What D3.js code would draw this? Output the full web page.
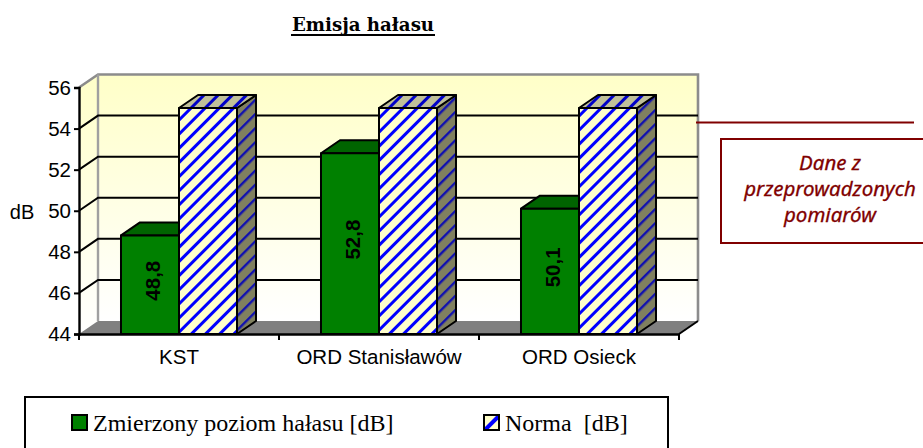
<!DOCTYPE html>
<html>
<head>
<meta charset="utf-8">
<script src="https://cdnjs.cloudflare.com/ajax/libs/d3/7.8.5/d3.min.js"></script>
<style>
  html, body { margin: 0; padding: 0; background: #fff; overflow: hidden; }
  text { font-family: "Liberation Sans", Arial, sans-serif; fill: #000; }
</style>
</head>
<body>
<div id="chart"></div>
<script>
var categories = ["KST", "ORD Stanisławów", "ORD Osieck"];
var seriesNames = ["Zmierzony poziom hałasu [dB]", "Norma  [dB]"];
var measured = [48.8, 52.8, 50.1];
var norm = [55, 55, 55];
var measuredLabels = ["48,8", "52,8", "50,1"];
var yTicks = [44, 46, 48, 50, 52, 54, 56];
var calloutLines = ["Dane z", "przeprowadzonych", "pomiarów"];

var width = 923, height = 448;
var depthX = 19, depthY = -13;

var svg = d3.select("#chart").append("svg")
  .attr("width", width)
  .attr("height", height);

var defs = svg.append("defs");

//wall gradient
var grad = defs.append("linearGradient")
  .attr("id", "wall")
  .attr("x1", 0).attr("y1", 0).attr("x2", 0).attr("y2", 1);
grad.append("stop").attr("offset", "0%").attr("stop-color", "#ffffc8");
grad.append("stop").attr("offset", "100%").attr("stop-color", "#ffffff");

//hatch fills
function hatch(id, bg, fg, size, w, shift) {
  var p = defs.append("pattern")
    .attr("id", id)
    .attr("patternUnits", "userSpaceOnUse")
    .attr("width", size).attr("height", size)
    .attr("patternTransform", "translate(" + shift + ",0) rotate(45)");
  p.append("rect").attr("width", size).attr("height", size).attr("fill", bg);
  p.append("rect").attr("width", w).attr("height", size).attr("fill", fg);
}
hatch("hatchFront", "#ffffcc", "#0000ff", 10, 3, 0);
hatch("hatchSide", "#80805f", "#1010b0", 10, 2.4, 0);
hatch("hatchTop", "#c0c09a", "#0000c8", 10, 3, 0);
hatch("hatchLegend", "#ffffcc", "#0000ff", 20, 4, 13);

//scales
var y = d3.scaleLinear().domain([44, 56]).range([334, 87.5]);
var x0 = d3.scaleBand().domain(categories).range([79, 679]);
var x1 = d3.scaleBand().domain(seriesNames).range([0, x0.bandwidth()])
  .paddingInner(0).paddingOuter(0.724);

var x = x0.range()[0], xEnd = x0.range()[1];
var y0 = y(44), yTop = y(56);

//left wall, back wall, floor
svg.append("path")
  .attr("d", "M" + x + "," + y0 + "L" + x + "," + yTop + "L" + (x + depthX) + "," + (yTop + depthY) + "L" + (x + depthX) + "," + (y0 + depthY) + "Z")
  .attr("fill", "url(#wall)");
svg.append("rect")
  .attr("x", x + depthX).attr("y", yTop + depthY)
  .attr("width", xEnd - x).attr("height", y0 - yTop)
  .attr("fill", "url(#wall)");
svg.append("path")
  .attr("d", "M" + x + "," + y0 + "L" + (x + depthX) + "," + (y0 + depthY) + "L" + (xEnd + depthX) + "," + (y0 + depthY) + "L" + xEnd + "," + y0 + "Z")
  .attr("fill", "#808080");

//wall borders
svg.append("path")
  .attr("d", "M" + x + "," + yTop + "L" + (x + depthX) + "," + (yTop + depthY) + "L" + (xEnd + depthX) + "," + (yTop + depthY) + "L" + (xEnd + depthX) + "," + (y0 + depthY))
  .attr("fill", "none").attr("stroke", "#8c8c8c").attr("stroke-width", 2.6);
svg.append("line")
  .attr("x1", x + depthX).attr("x2", x + depthX)
  .attr("y1", yTop + depthY).attr("y2", y0 + depthY)
  .attr("stroke", "#a0a0a0").attr("stroke-width", 2.4);
svg.append("line")
  .attr("x1", xEnd + depthX).attr("x2", xEnd)
  .attr("y1", y0 + depthY).attr("y2", y0)
  .attr("stroke", "#000").attr("stroke-width", 2);

//gridlines, skip the top and bottom ones
var gridTicks = yTicks.slice(1, -1);
svg.selectAll(".grid")
  .data(gridTicks)
  .enter().append("path")
  .attr("class", "grid")
  .attr("d", function (d) {
    return "M" + x + "," + y(d) + "L" + (x + depthX) + "," + (y(d) + depthY) + "L" + (xEnd + depthX) + "," + (y(d) + depthY);
  })
  .attr("fill", "none")
  .attr("stroke", "#000")
  .attr("stroke-width", 2);

//bars
var bars = [];
categories.forEach(function (c, i) {
  bars.push({ cat: c, name: seriesNames[0], value: measured[i], label: measuredLabels[i], front: "#008000", side: "#004000", top: "#006400" });
});
categories.forEach(function (c, i) {
  bars.push({ cat: c, name: seriesNames[1], value: norm[i], front: "url(#hatchFront)", side: "url(#hatchSide)", top: "url(#hatchTop)" });
});

function barLeft(d) { return x0(d.cat) + x1(d.name); }

var bar = svg.selectAll(".bar")
  .data(bars)
  .enter().append("g")
  .attr("class", "bar")
  .attr("stroke", "#000")
  .attr("stroke-width", 2)
  .attr("stroke-linejoin", "round");

bar.append("path")
  .attr("d", function (d) {
    var l = barLeft(d), r = l + x1.bandwidth(), t = y(d.value);
    return "M" + r + "," + y0 + "L" + r + "," + t + "L" + (r + depthX) + "," + (t + depthY) + "L" + (r + depthX) + "," + (y0 + depthY) + "Z";
  })
  .attr("fill", function (d) { return d.side; });

bar.append("path")
  .attr("d", function (d) {
    var l = barLeft(d), r = l + x1.bandwidth(), t = y(d.value);
    return "M" + l + "," + t + "L" + (l + depthX) + "," + (t + depthY) + "L" + (r + depthX) + "," + (t + depthY) + "L" + r + "," + t + "Z";
  })
  .attr("fill", function (d) { return d.top; });

bar.append("rect")
  .attr("x", barLeft)
  .attr("y", function (d) { return y(d.value); })
  .attr("width", x1.bandwidth())
  .attr("height", function (d) { return y0 - y(d.value); })
  .attr("fill", function (d) { return d.front; });

//value labels
svg.selectAll(".value")
  .data(bars.filter(function (d) { return d.label; }))
  .enter().append("text")
  .attr("class", "value")
  .attr("transform", function (d) {
    return "translate(" + (barLeft(d) + x1.bandwidth() / 2 + 3) + "," + ((y(d.value) + y0) / 2 - 4) + ") rotate(-90)";
  })
  .attr("text-anchor", "middle")
  .attr("dy", "0.35em")
  .style("font-size", "20.5px")
  .style("font-weight", "bold")
  .text(function (d) { return d.label; });

//y axis
var yAxis = d3.axisLeft(y).tickValues(yTicks).tickSize(5).tickPadding(3).tickFormat(d3.format("d"));
var yG = svg.append("g")
  .attr("transform", "translate(" + x + ",0)")
  .call(yAxis);
yG.select(".domain").attr("stroke", "#000").attr("stroke-width", 2.4);
yG.selectAll(".tick line").attr("stroke", "#000").attr("stroke-width", 2);
yG.selectAll("text").style("font-size", "20.5px").style("font-family", "Liberation Sans");

//x axis
var xAxis = d3.axisBottom(x0).tickSize(0).tickPadding(15);
var xG = svg.append("g")
  .attr("transform", "translate(0," + y0 + ")")
  .call(xAxis);
xG.select(".domain").attr("stroke", "#000").attr("stroke-width", 2.4);
xG.selectAll("text").style("font-size", "20.5px").style("font-family", "Liberation Sans");
xG.selectAll(".edge")
  .data(d3.range(categories.length + 1))
  .enter().append("line")
  .attr("class", "edge")
  .attr("x1", function (i) { return x + i * x0.step(); })
  .attr("x2", function (i) { return x + i * x0.step(); })
  .attr("y1", 0).attr("y2", 6)
  .attr("stroke", "#000").attr("stroke-width", 2);

//y title
svg.append("text")
  .attr("x", 22).attr("y", 219)
  .attr("text-anchor", "middle")
  .style("font-size", "20px")
  .text("dB");

//title
svg.append("text")
  .attr("x", 363).attr("y", 31)
  .attr("text-anchor", "middle")
  .style("font-family", "DejaVu Serif")
  .style("font-weight", "bold")
  .style("font-size", "18.2px")
  .text("Emisja hałasu");
svg.append("line")
  .attr("x1", 291).attr("x2", 435)
  .attr("y1", 35).attr("y2", 35)
  .attr("stroke", "#000").attr("stroke-width", 2);

//callout
svg.append("line")
  .attr("x1", 696).attr("x2", 914)
  .attr("y1", 122.5).attr("y2", 122.5)
  .attr("stroke", "#800000").attr("stroke-width", 2);
svg.append("rect")
  .attr("x", 721).attr("y", 139)
  .attr("width", 210).attr("height", 104)
  .attr("fill", "#fff")
  .attr("stroke", "#800000").attr("stroke-width", 2);
svg.selectAll(".callout")
  .data(calloutLines)
  .enter().append("text")
  .attr("class", "callout")
  .attr("x", 830)
  .attr("y", function (d, i) { return 170 + i * 26; })
  .attr("text-anchor", "middle")
  .style("font-family", "Noto Sans")
  .style("font-style", "italic")
  .style("font-size", "20.5px")
  .style("fill", "#800000")
  .style("stroke", "#800000")
  .style("stroke-width", 0.3)
  .text(function (d) { return d; });

//legend
svg.append("rect")
  .attr("x", 25).attr("y", 397)
  .attr("width", 643).attr("height", 70)
  .attr("fill", "#fff")
  .attr("stroke", "#000").attr("stroke-width", 2);
var legendX = [72, 484];
var legendFills = ["#008000", "url(#hatchLegend)"];
var legend = svg.selectAll(".legend")
  .data(seriesNames)
  .enter().append("g")
  .attr("class", "legend")
  .attr("transform", function (d, i) { return "translate(" + legendX[i] + ",415)"; });
legend.append("rect")
  .attr("width", 15).attr("height", 15)
  .attr("fill", function (d, i) { return legendFills[i]; })
  .attr("stroke", "#000").attr("stroke-width", 2);
legend.append("text")
  .attr("x", 21).attr("y", 16)
  .style("font-family", "Liberation Serif")
  .style("font-size", "24px")
  .style("white-space", "pre")
  .text(function (d) { return d; });
</script>
</body>
</html>
